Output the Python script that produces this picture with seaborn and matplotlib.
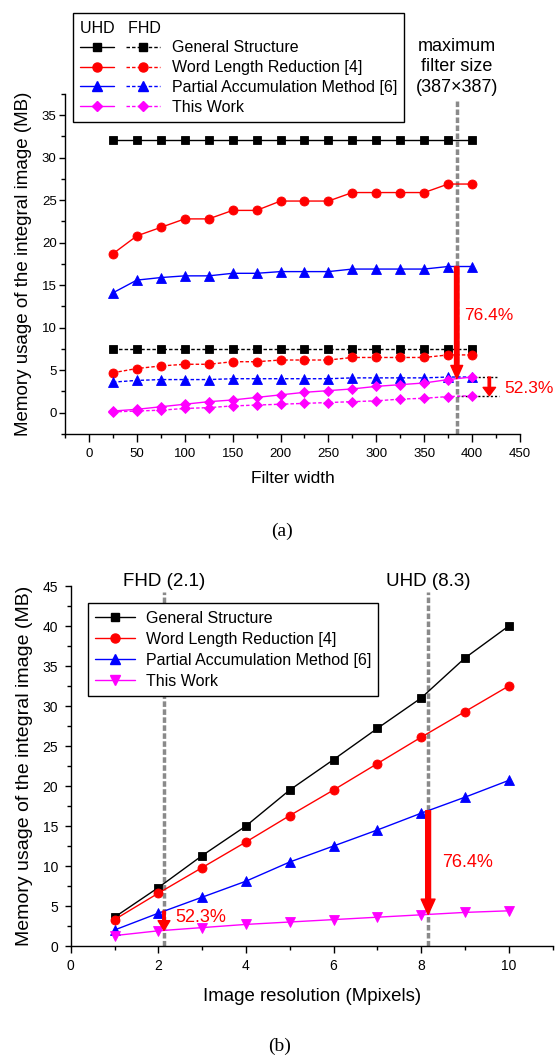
import numpy as np
import matplotlib
matplotlib.use('Agg')
import matplotlib.pyplot as plt
import matplotlib.transforms as mtransforms
import seaborn as sns
from matplotlib.lines import Line2D
from matplotlib.legend_handler import HandlerTuple
from matplotlib.ticker import MultipleLocator

# Panel (a): memory usage vs filter width (UHD solid, FHD dashed)
filter_width = [25, 50, 75, 100, 125, 150, 175, 200, 225, 250, 275, 300, 325, 350, 375, 400]
gs_uhd = [32.1, 32.1, 32.1, 32.1, 32.1, 32.1, 32.1, 32.1, 32.1, 32.1, 32.1, 32.1, 32.1, 32.1, 32.1, 32.1]
wlr_uhd = [18.7, 20.8, 21.8, 22.8, 22.8, 23.8, 23.8, 24.9, 24.9, 24.9, 25.9, 25.9, 25.9, 25.9, 26.9, 26.9]
pam_uhd = [14.1, 15.6, 15.9, 16.1, 16.1, 16.4, 16.4, 16.6, 16.6, 16.6, 16.9, 16.9, 16.9, 16.9, 17.2, 17.2]
tw_uhd = [0.2, 0.4, 0.7, 1.0, 1.3, 1.5, 1.8, 2.1, 2.4, 2.6, 2.8, 3.1, 3.3, 3.5, 3.9, 4.2]
gs_fhd = [7.5, 7.5, 7.5, 7.5, 7.5, 7.5, 7.5, 7.5, 7.5, 7.5, 7.5, 7.5, 7.5, 7.5, 7.5, 7.5]
wlr_fhd = [4.7, 5.2, 5.5, 5.7, 5.7, 6.0, 6.0, 6.2, 6.2, 6.2, 6.5, 6.5, 6.5, 6.5, 6.8, 6.8]
pam_fhd = [3.6, 3.8, 3.9, 3.9, 3.9, 4.0, 4.0, 4.0, 4.0, 4.0, 4.1, 4.1, 4.1, 4.1, 4.2, 4.2]
tw_fhd = [0.1, 0.2, 0.3, 0.5, 0.6, 0.8, 0.9, 1.0, 1.1, 1.2, 1.3, 1.4, 1.6, 1.7, 1.9, 2.0]

# Panel (b): memory usage vs image resolution
resolution = [1, 2, 3, 4, 5, 6, 7, 8, 9, 10]
gs_res = [3.6, 7.3, 11.3, 15.0, 19.5, 23.3, 27.2, 31.0, 36.0, 40.0]
wlr_res = [3.3, 6.6, 9.8, 13.0, 16.3, 19.5, 22.8, 26.1, 29.3, 32.5]
pam_res = [2.0, 4.1, 6.1, 8.1, 10.5, 12.5, 14.5, 16.6, 18.6, 20.7]
tw_res = [1.3, 1.9, 2.3, 2.7, 3.0, 3.3, 3.6, 3.9, 4.2, 4.4]

methods = ['General Structure', 'Word Length Reduction [4]',
           'Partial Accumulation Method [6]', 'This Work']
colors = ['black', '#ff0000', '#0000ff', '#ff00ff']
markers_a = ['s', 'o', '^', 'D']
sizes_a = [5.5, 6.5, 7, 5.5]
markers_b = ['s', 'o', '^', 'v']
sizes_b = [6, 6.5, 7, 7]

max_filter = 384       # 387x387 marker line
fhd_mpix = 2.13
uhd_mpix = 8.16

dash = (0, (2.5, 1.5))
gray_dash = (0, (1.6, 0.7))

sns.set_theme(style='ticks')
plt.rcParams['font.family'] = ['Liberation Sans', 'DejaVu Sans']
plt.rcParams.update({'axes.edgecolor': 'black', 'xtick.color': 'black',
                     'ytick.color': 'black', 'text.color': 'black',
                     'axes.labelcolor': 'black', 'axes.linewidth': 1.0})

fig = plt.figure(figsize=(5.55, 10.59), dpi=100)
ax_a = fig.add_axes([0.1171, 0.5902, 0.8198, 0.3211])
ax_b = fig.add_axes([0.1274, 0.1067, 0.8681, 0.3399])


def draw(ax, x, y, color, marker, ms, ls='-'):
    sns.lineplot(x=x, y=y, ax=ax, color=color, marker=marker, markersize=ms,
                 markeredgecolor=color, markeredgewidth=0.6, linewidth=1.0,
                 linestyle=ls, legend=False, zorder=3)


def red_arrow(ax, x, y0, y1, w, hw, hl):
    ax.annotate('', xy=(x, y1), xytext=(x, y0),
                arrowprops=dict(facecolor='#ff0000', edgecolor='#ff0000',
                                width=w, headwidth=hw, headlength=hl, shrink=0),
                zorder=6)


# ---------- panel (a) ----------
uhd = [gs_uhd, wlr_uhd, pam_uhd, tw_uhd]
fhd = [gs_fhd, wlr_fhd, pam_fhd, tw_fhd]
for i in range(4):
    draw(ax_a, filter_width, uhd[i], colors[i], markers_a[i], sizes_a[i])
    draw(ax_a, filter_width, fhd[i], colors[i], markers_a[i], sizes_a[i], ls=dash)

ax_a.set_xlim(-25, 450)
ax_a.set_ylim(-2.5, 37.5)
ax_a.xaxis.set_minor_locator(MultipleLocator(25))
ax_a.yaxis.set_minor_locator(MultipleLocator(2.5))
ax_a.set_xticks([0, 50, 100, 150, 200, 250, 300, 350, 400, 450])
ax_a.set_yticks([0, 5, 10, 15, 20, 25, 30, 35])
ax_a.tick_params(axis='x', which='major', length=5.5, width=1, pad=4.5, labelsize=9.5)
ax_a.tick_params(axis='x', which='minor', length=3, width=1)
ax_a.tick_params(axis='y', which='major', length=4, width=1, pad=2, labelsize=9.5)
ax_a.tick_params(axis='y', which='minor', length=3, width=1)
ax_a.set_xlabel('Filter width', fontsize=12.5, labelpad=8)
ax_a.set_ylabel('Memory usage of the integral image (MB)', fontsize=13.5, labelpad=7)
sns.despine(ax=ax_a)

ax_a.axvline(max_filter, ymin=0, ymax=(36.7 + 2.5) / 40, color='#8a8a8a',
             lw=2.5, ls=gray_dash, zorder=2)
trans_a = mtransforms.blended_transform_factory(ax_a.transData, ax_a.transAxes)
ax_a.text(max_filter, 0.995, 'maximum\nfilter size\n(387\u00d7387)', transform=trans_a,
          ha='center', va='bottom', fontsize=13, linespacing=1.25)

top_a = np.interp(max_filter, filter_width, pam_uhd)
bot_a = np.interp(max_filter, filter_width, tw_uhd)
red_arrow(ax_a, max_filter, top_a, bot_a, 3.2, 8.5, 9.5)
ax_a.text(392, 11.4, '76.4%', color='#ff0000', fontsize=12.5, va='center', ha='left')

ax_a.plot([402, 428], [pam_fhd[-1], pam_fhd[-1]], color='black', lw=1, ls=(0, (1.5, 1.5)), zorder=2)
ax_a.plot([max_filter, 428], [tw_fhd[-1], tw_fhd[-1]], color='black', lw=1, ls=(0, (1.5, 1.5)), zorder=2)
red_arrow(ax_a, 418, pam_fhd[-1], tw_fhd[-1], 1.7, 9, 6)
ax_a.text(434, 2.9, '52.3%', color='#ff0000', fontsize=12.5, va='center', ha='left')

leg_handles = []
for c, m, ms in zip(colors, markers_a, sizes_a):
    h_solid = Line2D([], [], color=c, marker=m, ms=ms, mec=c, lw=1)
    h_dash = Line2D([], [], color=c, marker=m, ms=ms, mec=c, lw=1, ls=dash)
    leg_handles.append((h_solid, h_dash))
leg_a = ax_a.legend(leg_handles, methods,
                    handler_map={tuple: HandlerTuple(ndivide=None, pad=0.73)},
                    handlelength=5.0, handletextpad=0.73, title='UHD   FHD',
                    alignment='left', loc='upper left', bbox_to_anchor=(0.018, 1.237),
                    borderaxespad=0, fancybox=False, edgecolor='black', framealpha=1,
                    fontsize=11.5, title_fontsize=11.5, labelspacing=0.3, borderpad=0.45)
leg_a.get_frame().set_linewidth(1.0)
leg_a.set_zorder(10)

# ---------- panel (b) ----------
res_series = [gs_res, wlr_res, pam_res, tw_res]
for i in range(4):
    draw(ax_b, resolution, res_series[i], colors[i], markers_b[i], sizes_b[i])

ax_b.set_xlim(0, 11)
ax_b.set_ylim(0, 45)
ax_b.set_xticks([0, 2, 4, 6, 8, 10])
ax_b.xaxis.set_minor_locator(MultipleLocator(1))
ax_b.set_yticks([0, 5, 10, 15, 20, 25, 30, 35, 40, 45])
ax_b.yaxis.set_minor_locator(MultipleLocator(2.5))
ax_b.tick_params(axis='x', which='major', length=5, width=1, pad=4.5, labelsize=10)
ax_b.tick_params(axis='x', which='minor', length=3, width=1)
ax_b.tick_params(axis='y', which='major', length=4.5, width=1, pad=4.5, labelsize=10)
ax_b.tick_params(axis='y', which='minor', length=3, width=1)
ax_b.set_xlabel('Image resolution (Mpixels)', fontsize=13.4, labelpad=11)
ax_b.set_ylabel('Memory usage of the integral image (MB)', fontsize=14, labelpad=6.8)
sns.despine(ax=ax_b)

trans_b = mtransforms.blended_transform_factory(ax_b.transData, ax_b.transAxes)
for xv, lab in [(fhd_mpix, 'FHD (2.1)'), (uhd_mpix, 'UHD (8.3)')]:
    ax_b.axvline(xv, ymin=0, ymax=44.3 / 45, color='#8a8a8a', lw=2.5, ls=gray_dash, zorder=2)
    ax_b.text(xv, 1.0, lab, transform=trans_b, ha='center', va='baseline', fontsize=13.5)

red_arrow(ax_b, uhd_mpix, np.interp(uhd_mpix, resolution, pam_res),
          np.interp(uhd_mpix, resolution, tw_res), 3.5, 10, 11)
ax_b.text(8.47, 10.5, '76.4%', color='#ff0000', fontsize=13, va='center', ha='left')
red_arrow(ax_b, fhd_mpix, np.interp(fhd_mpix, resolution, pam_res),
          np.interp(fhd_mpix, resolution, tw_res), 1.8, 8.5, 7)
ax_b.text(2.38, 3.6, '52.3%', color='#ff0000', fontsize=13, va='center', ha='left')

leg_b_handles = [Line2D([], [], color=c, marker=m, ms=ms, mec=c, lw=1)
                 for c, m, ms in zip(colors, markers_b, sizes_b)]
leg_b = ax_b.legend(leg_b_handles, methods, loc='upper left', bbox_to_anchor=(0.0365, 0.952),
                    borderaxespad=0, fancybox=False, edgecolor='black', framealpha=1,
                    handlelength=2.45, handletextpad=0.7, fontsize=11.5,
                    labelspacing=0.38, borderpad=0.45)
leg_b.get_frame().set_linewidth(1.0)

fig.text(281.7 / 555, 1 - 531.7 / 1059, '(a)', ha='center', va='center',
         family='Liberation Serif', fontsize=14)
fig.text(280 / 555, 1 - 1046 / 1059, '(b)', ha='center', va='center',
         family='Liberation Serif', fontsize=14)

fig.savefig('out.png', dpi=100)
